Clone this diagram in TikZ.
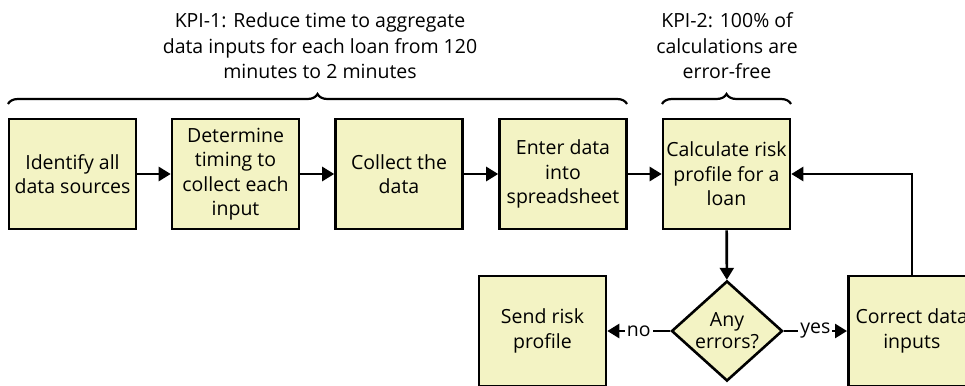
\documentclass[tikz,border=0pt]{standalone}
\usepackage{fontspec}
\setmainfont{Open Sans}
\usetikzlibrary{shapes.geometric,arrows.meta,decorations.pathreplacing}
\definecolor{boxfill}{RGB}{243,243,196}
\tikzset{
  stepbox/.style={draw=black, line width=2.6pt, fill=boxfill, minimum width=127pt, minimum height=110pt, inner sep=0pt, align=center, font=\fontsize{19.5}{24.5}\selectfont},
  decision/.style={draw=black, line width=2.6pt, fill=boxfill, diamond, minimum width=111pt, minimum height=85pt, inner sep=0pt, align=center, font=\fontsize{19.5}{22}\selectfont},
  conn/.style={line width=2.6pt, -{Triangle[length=12pt,width=14pt]}},
  kpi/.style={align=center, font=\fontsize{19.5}{25.5}\selectfont},
  lbl/.style={fill=white, inner sep=2pt, font=\fontsize{19.5}{20}\selectfont},
  bracey/.style={line width=2.2pt, decorate, decoration={brace, amplitude=10pt}}
}
\begin{document}
\begin{tikzpicture}[x=1pt,y=-1pt]
\useasboundingbox (0,0) rectangle (965,385);
\clip (0,0) rectangle (965,385);
\node[stepbox] (b1) at (72.5,174) {Identify all\\data sources};
\node[stepbox] (b2) at (235.5,174) {Determine\\timing to\\collect each\\input};
\node[stepbox] (b3) at (399,174) {Collect the\\data};
\node[stepbox] (b4) at (563,174) {Enter data\\into\\spreadsheet};
\node[stepbox] (b5) at (726.5,174) {Calculate risk\\profile for a\\loan};
\node[decision] (d) at (727,331) {Any\\errors?};
\node[stepbox] (s) at (542.5,331) {Send risk\\profile};
\node[stepbox, anchor=west, minimum width=140pt] (c) at (847,331) {\hspace*{1pt}Correct data\hspace*{14pt}\\\hspace*{-13pt}inputs};
\draw[conn] (b1) -- (b2);
\draw[conn] (b2) -- (b3);
\draw[conn] (b3) -- (b4);
\draw[conn] (b4) -- (b5);
\draw[conn] (b5) -- (d);
\draw[conn] (d.west) -- node[lbl]{no} (s.east);
\draw[conn] (d.east) -- node[lbl]{yes} (c.west);
\coordinate (fb) at (912,174);
\draw[conn] (c.north -| fb) -- (fb) -- (b5.east);
\draw[bracey] (8,104) -- (627,104);
\draw[bracey] (662,104) -- (791,104);
\node[kpi] (k1) at (320,46) {KPI-1: Reduce time to aggregate\\data inputs for each loan from 120\\minutes to 2 minutes};
\node[kpi] (k2) at (727,46) {KPI-2: 100\% of\\calculations are\\error-free};
\end{tikzpicture}
\end{document}
